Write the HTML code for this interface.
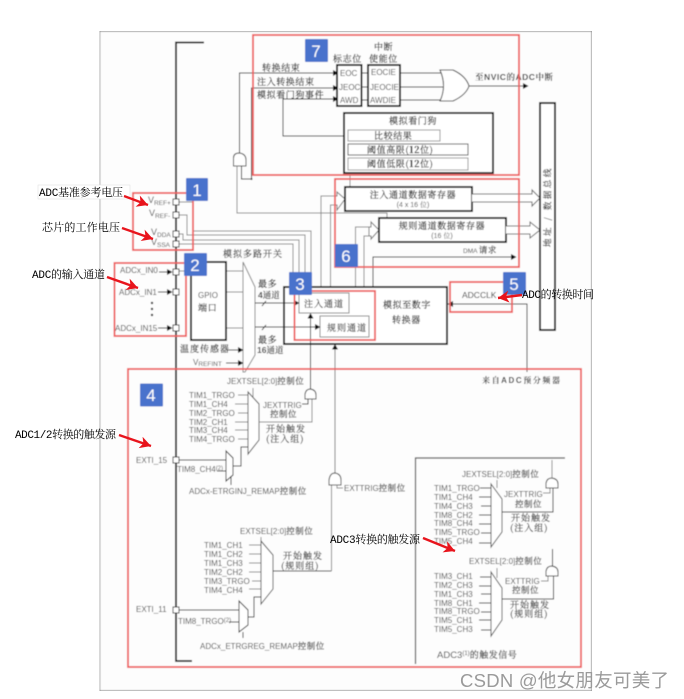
<!DOCTYPE html>
<html><head><meta charset="utf-8"><style>
html,body{margin:0;padding:0;background:#fff;width:684px;height:699px;overflow:hidden}
svg{display:block}
text{font-family:"Liberation Sans","Noto Serif CJK SC",sans-serif;font-size:8px;fill:#4a4a4a}
.c{font-family:"Noto Serif CJK SC","Liberation Sans",serif;font-size:9px;letter-spacing:1px;fill:#444;stroke:#444;stroke-width:.2}
.cd{font-family:"Noto Serif CJK SC","Liberation Sans",serif;font-size:9px;letter-spacing:.6px;fill:#333;stroke:#333;stroke-width:.2}
.s{font-family:"Noto Serif CJK SC",serif;font-size:8.5px;letter-spacing:.5px;stroke:#444;stroke-width:.2}
.a{font-family:"Liberation Mono","Noto Serif CJK SC",serif;font-size:11px;fill:#000}
.num{font-family:"Liberation Sans",sans-serif;font-size:17px;fill:#fff;text-anchor:middle}
.g{fill:none;stroke:#888;stroke-width:1}
.k{fill:none;stroke:#222;stroke-width:1}
.b{fill:#fff;stroke:#111;stroke-width:1.8}
.r{fill:none;stroke:#ee5f5f;stroke-width:1.8}
.blue{fill:#4a72cc}
.pin{fill:#fff;stroke:#333;stroke-width:1}
.gate{fill:#fff;stroke:#444;stroke-width:1}
.ra{stroke:#e8141c;stroke-width:2.4;fill:none;marker-end:url(#rh)}
</style></head><body>
<svg width="684" height="699" viewBox="0 0 684 699" xmlns="http://www.w3.org/2000/svg">
<defs>
<marker id="ar" markerWidth="6" markerHeight="6" refX="5" refY="3" orient="auto" markerUnits="userSpaceOnUse"><path d="M0,0L5.5,3L0,6Z" fill="#111"/></marker>
<marker id="rh" markerWidth="14" markerHeight="14" refX="11" refY="6" orient="auto" markerUnits="userSpaceOnUse"><path d="M0,0L11,6L0,12L3,6Z" fill="#e8141c"/></marker>
<filter id="bl" x="0" y="0" width="100%" height="100%"><feGaussianBlur stdDeviation="0.4"/></filter>
</defs>
<rect width="684" height="699" fill="#fff"/>
<g filter="url(#bl)">
<rect x="99.5" y="31" width="492.500" height="660" fill="#fdfdfd" stroke="#888" stroke-width="1.4"/>
<polyline points="204,42.500 176,42.500 176,661 192,661" fill="none" stroke="#222" stroke-width="1.800"/>

<!-- power lines -->
<polyline class="g" points="179,202 193,202 193,231 311,231 311,287"/>
<polyline class="g" points="179,215 187,215 187,235 305,235 305,287"/>
<polyline class="g" points="179,234 183,234 183,240 299,240 299,287"/>
<polyline class="g" points="179,244 293,244 293,287"/>

<!-- top section lines -->
<polyline class="k" points="239.500,153 239.500,73 338,73" marker-end="url(#ar)"/>
<polyline class="k" points="241.500,166 241.500,179 251.500,179 251.500,88 338,88" marker-end="url(#ar)"/>
<circle cx="251.500" cy="179" r="1" fill="#333"/>
<polyline class="k" points="347,136 283,136 283,99 338,99" marker-end="url(#ar)"/>
<rect x="337" y="65" width="24.500" height="41" class="b"/>
<rect x="368" y="65" width="32" height="41" class="b"/>
<path class="k" d="M361,73H368M361,87H368M361,100H368M400,73H445M400,87H448M400,100H445"/>
<path class="gate" d="M440,70H453Q466,76 469,86Q466,95 453,101H440Q447,86 440,70Z"/>
<line x1="469" y1="86" x2="528" y2="86" stroke="#222" marker-end="url(#ar)"/>
<text class="cd" x="262" y="71">转换结束</text>
<text class="cd" x="257" y="85">注入转换结束</text>
<text class="cd" x="257" y="98">模拟看门狗事件</text>
<text class="cd" x="333" y="62">标志位</text>
<text class="cd" x="374" y="50">中断</text>
<text class="cd" x="369" y="62">使能位</text>
<text x="340" y="76">EOC</text><text x="339" y="90">JEOC</text><text x="340" y="103">AWD</text>
<text x="371" y="75">EOCIE</text><text x="370" y="90">JEOCIE</text><text x="370" y="103">AWDIE</text>
<text x="475" y="80" textLength="78" style="font-weight:bold;font-size:8.500px;fill:#444">至NVIC的ADC中断</text>

<rect x="344" y="113" width="149" height="60" class="b"/>
<text class="cd" x="389" y="124">模拟看门狗</text>
<rect x="348" y="130" width="92" height="11" fill="#fff" stroke="#999"/>
<text class="cd" x="374" y="139">比较结果</text>
<rect x="348" y="144" width="120" height="11" fill="#fff" stroke="#555"/>
<text class="cd" x="367" y="153">阈值高限(<tspan style="font-weight:bold">12</tspan>位)</text>
<rect x="348" y="158" width="120" height="12" fill="#fff" stroke="#999"/>
<text class="cd" x="367" y="167">阈值低限(<tspan style="font-weight:bold">12</tspan>位)</text>

<!-- AND gate main -->
<path class="gate" d="M233.500,166V158Q233.500,153 239.500,153Q246,154 246,160V166Z"/>
<polyline class="g" points="237,166 237,213 387,213 387,218"/>
<line class="g" x1="350" y1="175" x2="350" y2="187"/>

<!-- registers -->
<polyline class="g" points="321,287 321,196 337,196"/>
<polyline class="g" points="330.500,287 330.500,205 337,205"/>
<path fill="#fff" stroke="#777" d="M337,192L345,199L337,210V205H335V196H337Z"/>
<rect x="345" y="187" width="127" height="24" class="b"/>
<text class="cd" x="413" y="198" text-anchor="middle">注入通道数据寄存器</text>
<text x="413" y="207" text-anchor="middle" style="font-size:7px">(4 x 16 位)</text>
<polyline class="g" points="355.500,315 355.500,227 371,227"/>
<polyline class="g" points="364,315 364,236 371,236"/>
<path fill="#fff" stroke="#777" d="M371,222L379,230L371,239V236H369V227H371Z"/>
<rect x="379" y="218" width="127" height="24" class="b"/>
<text class="cd" x="442" y="229" text-anchor="middle">规则通道数据寄存器</text>
<text x="442" y="238" text-anchor="middle" style="font-size:7px">(16 位)</text>
<path d="M472,194H532V190L540,198L532,206V202H472" fill="#fff" stroke="#666"/>
<path d="M506,226H530V222L540,230L530,238V234H506" fill="#fff" stroke="#666"/>
<rect x="540" y="103" width="15" height="227" class="b"/>
<text class="cd" transform="translate(550.500,247) rotate(-90)" style="font-size:8.500px;letter-spacing:2.500px">地址 / 数据总线</text>
<polyline class="k" points="373,287 373,257 516,257" marker-end="url(#ar)"/>
<text x="463" y="253" style="font-size:6.500px">DMA <tspan class="s">请求</tspan></text>

<!-- ADC -->
<rect x="284" y="287" width="163" height="57" class="b"/>
<rect x="299" y="293" width="50" height="20" fill="#fff" stroke="#888"/>
<text class="c" x="304" y="307">注入通道</text>
<rect x="320" y="316" width="49" height="21" fill="#fff" stroke="#888"/>
<text class="c" x="327" y="331">规则通道</text>
<text class="cd" x="383" y="308">模拟至数字</text>
<text class="cd" x="392" y="323">转换器</text>
<text x="462" y="298" style="font-size:8.500px;fill:#333">ADCCLK</text>
<polyline class="k" points="527,372 527,304 448,304" marker-end="url(#ar)"/>
<text x="482" y="383" textLength="78" style="font-weight:bold;font-size:8px;fill:#444">来自ADC预分频器</text>

<!-- inputs -->
<path class="g" d="M226,271H243M226,292H243M226,328H243M179,271H191" stroke="#aaa"/>
<rect x="191" y="262" width="35" height="78" class="b"/>
<text x="198" y="298">GPIO</text><text class="cd" x="198" y="311">端口</text>
<polyline points="243,262 255,287 255,355 245,372 243,372 243,262" fill="#fff" stroke="#888"/>
<text class="c" x="223" y="257">模拟多路开关</text>
<text class="cd" x="258" y="287">最多</text>
<text x="258" y="298" style="font-weight:bold;font-size:8.500px;fill:#444">4通道</text>
<text class="cd" x="258" y="343">最多</text>
<text x="257" y="353" style="font-weight:bold;font-size:8.500px;fill:#444">16通道</text>
<line x1="255" y1="303" x2="299" y2="303" stroke="#222" marker-end="url(#ar)"/>
<line x1="255" y1="327" x2="320" y2="327" stroke="#222" marker-end="url(#ar)"/>
<path class="k" d="M262,306L266,301M262,330L266,325"/>
<text class="c" x="180" y="352">温度传感器</text>
<line x1="227" y1="350" x2="243" y2="350" stroke="#222" marker-end="url(#ar)"/>
<text x="193" y="365" style="font-size:8px">V<tspan dy="1" style="font-size:6.500px">REFINT</tspan></text>
<line x1="226" y1="363" x2="243" y2="363" stroke="#222" marker-end="url(#ar)"/>

<text x="148" y="203" style="font-size:9px">V<tspan dy="2" style="font-size:6.500px">REF+</tspan></text>
<text x="149" y="216" style="font-size:9px">V<tspan dy="2" style="font-size:6.500px">REF-</tspan></text>
<text x="151" y="235" style="font-size:9px">V<tspan dy="2" style="font-size:6.500px">DDA</tspan></text>
<text x="151" y="245" style="font-size:9px">V<tspan dy="2" style="font-size:6.500px">SSA</tspan></text>
<text x="120" y="273">ADCx_IN0</text><text x="119" y="295">ADCx_IN1</text><text x="115" y="331">ADCx_IN15</text>
<g stroke="#222"><line x1="159" y1="272" x2="172" y2="272" marker-end="url(#ar)"/><line x1="158" y1="292" x2="172" y2="292" marker-end="url(#ar)"/><line x1="158" y1="328" x2="172" y2="328" marker-end="url(#ar)"/></g>
<circle cx="152" cy="303" r="1.200" fill="#333"/><circle cx="152" cy="309" r="1.200" fill="#333"/><circle cx="152" cy="315" r="1.200" fill="#333"/>
<g class="pin"><rect x="173" y="199" width="6" height="6"/><rect x="173" y="212" width="6" height="6"/><rect x="173" y="231" width="6" height="6"/><rect x="173" y="241" width="6" height="6"/><rect x="173" y="269" width="6" height="6"/><rect x="173" y="289" width="6" height="6"/><rect x="173" y="325" width="6" height="6"/></g>

<!-- to ADC up arrows -->
<line x1="310.500" y1="389" x2="310.500" y2="313.500" stroke="#222" marker-end="url(#ar)"/>
<line x1="335" y1="473" x2="335" y2="344.500" stroke="#777" marker-end="url(#ar)"/>

<!-- section 4: injected -->
<text x="227" y="384">JEXTSEL[2:0]<tspan class="s">控制位</tspan></text>
<line class="g" x1="253" y1="388" x2="253" y2="400"/>
<text x="189" y="398">TIM1_TRGO</text><text x="189" y="407">TIM1_CH4</text><text x="189" y="416">TIM2_TRGO</text><text x="189" y="425">TIM2_CH1</text><text x="189" y="433">TIM3_CH4</text><text x="189" y="442">TIM4_TRGO</text>
<path class="g" d="M238,395H248M235,404H248M238,413H248M235,422H248M235,430H248M238,439H248"/>
<polygon points="248,392 259,404 259,440 248,454" fill="#fff" stroke="#555"/>
<polyline class="g" points="259,422 312,422 312,399"/>
<polyline class="k" points="302,404 308,404 308,399"/>
<path class="gate" d="M305,399V394Q306,389 310.500,389Q316,390 316,395V399Z"/>
<text x="263" y="408">JEXTTRIG</text>
<text class="s" x="270" y="417">控制位</text>
<text class="c" x="266" y="432">开始触发</text>
<text class="c" x="266" y="442">(注入组)</text>
<text x="136" y="463">EXTI_15</text>
<rect x="173" y="457" width="6" height="6" class="pin"/>
<line class="k" x1="179" y1="460" x2="226" y2="460"/>
<text x="177" y="472">TIM8_CH4<tspan dy="-2" style="font-size:6px">(2)</tspan></text>
<line class="k" x1="217" y1="471" x2="226" y2="471"/>
<polygon points="226,451 233,458 233,475 226,481" fill="#fff" stroke="#333"/>
<polyline class="k" points="233,466 241,466 241,447 248,447"/>
<line class="k" x1="231" y1="476" x2="231" y2="485"/>
<text x="189" y="494">ADCx-ETRGINJ_REMAP<tspan class="s">控制位</tspan></text>

<!-- section 4: regular -->
<text x="240" y="534">EXTSEL[2:0]<tspan class="s">控制位</tspan></text>
<line class="g" x1="261" y1="537" x2="261" y2="541"/>
<text x="204" y="548">TIM1_CH1</text><text x="204" y="557">TIM1_CH2</text><text x="204" y="566">TIM1_CH3</text><text x="204" y="575">TIM2_CH2</text><text x="204" y="584">TIM3_TRGO</text><text x="204" y="593">TIM4_CH4</text>
<path class="g" d="M249,545H261M249,554H261M249,563H261M249,572H261M252,581H261M249,589H261"/>
<polygon points="261,541 273,555 273,589 261,604" fill="#fff" stroke="#555"/>
<polyline class="k" points="273,571 331.500,571"/>
<line class="g" x1="331.500" y1="571" x2="331.500" y2="485"/>
<text class="c" x="283" y="559">开始触发</text>
<text class="c" x="281" y="569">(规则组)</text>
<text x="136" y="612">EXTI_11</text>
<rect x="173" y="607" width="6" height="6" class="pin"/>
<line class="k" x1="179" y1="610" x2="239" y2="610"/>
<text x="178" y="624">TIM8_TRGO<tspan dy="-2" style="font-size:6px">(2)</tspan></text>
<line class="k" x1="229" y1="622" x2="239" y2="622"/>
<polygon points="239,601 248,610 248,625 239,632" fill="#fff" stroke="#333"/>
<polyline class="k" points="248,617 254,617 254,597 261,597"/>
<line class="k" x1="243" y1="632" x2="243" y2="638"/>
<text x="200" y="649">ADCx_ETRGREG_REMAP<tspan class="s">控制位</tspan></text>
<path class="gate" d="M329,485V480Q330,473 335,473Q341,474 341,480V485Z"/>
<polyline class="g" points="337,485 337,488 343,488"/>
<text x="344" y="491">EXTTRIG<tspan class="s">控制位</tspan></text>

<!-- ADC3 -->
<polyline points="415.500,664 415.500,458 565,458" fill="none" stroke="#555" stroke-width="1.200"/>
<text x="462" y="477">JEXTSEL[2:0]<tspan class="s">控制位</tspan></text>
<line class="g" x1="497" y1="480" x2="497" y2="488"/>
<text x="434" y="491">TIM1_TRGO</text><text x="434" y="500">TIM1_CH4</text><text x="434" y="509">TIM4_CH3</text><text x="434" y="518">TIM8_CH2</text><text x="434" y="526">TIM8_CH4</text><text x="434" y="535">TIM5_TRGO</text><text x="434" y="544">TIM5_CH4</text>
<path class="k" d="M480,488H491M479,497H491M481,506H491M479,515H491M479,524H491M481,533H491M479,543H491"/>
<polygon points="491,484 502,499 502,532 491,547" fill="#fff" stroke="#555"/>
<polyline class="k" points="502,512 553,512 553,488"/>
<polyline class="g" points="543,493 550,493 550,488"/>
<path class="gate" d="M546,488V483Q547,478 552,478Q558,479 558,484V488Z"/>
<line class="g" x1="552" y1="478" x2="552" y2="460"/>
<text x="504" y="497">JEXTTRIG</text><text class="s" x="515" y="507">控制位</text>
<text class="c" x="511" y="521">开始触发</text><text class="c" x="510" y="531">(注入组)</text>

<text x="469" y="564">EXTSEL[2:0]<tspan class="s">控制位</tspan></text>
<line class="g" x1="497" y1="568" x2="497" y2="578"/>
<text x="434" y="579">TIM3_CH1</text><text x="434" y="588">TIM2_CH3</text><text x="434" y="597">TIM1_CH3</text><text x="434" y="606">TIM8_CH1</text><text x="434" y="614">TIM8_TRGO</text><text x="434" y="623">TIM5_CH1</text><text x="434" y="632">TIM5_CH3</text>
<path class="k" d="M480,577H491M479,586H491M481,594H491M479,603H491M481,612H491M479,620H491M481,630H491"/>
<polygon points="491,572 502,588 502,620 491,636" fill="#fff" stroke="#555"/>
<polyline class="k" points="502,599 553.500,599 553.500,576"/>
<polyline class="g" points="541,581 548,581 548,576"/>
<path class="gate" d="M546,576V571Q547,566 552,566Q558,567 558,572V576Z"/>
<line class="k" x1="552.500" y1="566" x2="552.500" y2="549"/>
<text x="505" y="584">EXTTRIG</text><text class="s" x="512" y="593">控制位</text>
<text class="c" x="510" y="608">开始触发</text><text class="c" x="510" y="617">(规则组)</text>
<text x="437" y="658" style="font-size:9.500px;fill:#444">ADC3<tspan dy="-3" style="font-size:6px">(1)</tspan><tspan dy="3" class="s" style="fill:#444;font-size:9px">的触发信号</tspan></text>

<!-- red rects -->
<rect class="r" x="253" y="35" width="266" height="140"/>
<rect class="r" x="133" y="193" width="60" height="57"/>
<rect class="r" x="114.500" y="263" width="71.500" height="73"/>
<rect class="r" x="335" y="179" width="184" height="88"/>
<rect class="r" x="294.500" y="291" width="80.500" height="49"/>
<rect class="r" x="450" y="282" width="62" height="30"/>
<rect class="r" x="128" y="369" width="453" height="298"/>

<!-- blue squares -->
<rect class="blue" x="186" y="178" width="22" height="23" rx="1"/><text class="num" x="197" y="196">1</text>
<rect class="blue" x="184" y="253" width="23" height="23" rx="1"/><text class="num" x="195" y="271">2</text>
<rect class="blue" x="289" y="272" width="23" height="23" rx="1"/><text class="num" x="300" y="290">3</text>
<rect class="blue" x="140" y="383.500" width="23" height="23" rx="1"/><text class="num" x="151" y="401">4</text>
<rect class="blue" x="503" y="272" width="23" height="23" rx="1"/><text class="num" x="514" y="290">5</text>
<rect class="blue" x="335" y="244" width="23" height="23" rx="1"/><text class="num" x="346" y="262">6</text>
<rect class="blue" x="305" y="39" width="23" height="23" rx="1"/><text class="num" x="316" y="57">7</text>
</g>

<!-- annotations -->
<rect x="38" y="185" width="92" height="14" fill="#fff" stroke="#ddd" stroke-width=".5"/>
<text class="a" x="39" y="196" textLength="84">ADC基准参考电压</text>
<line class="ra" x1="124" y1="196" x2="148" y2="205"/>
<text class="a" x="42" y="231" textLength="78">芯片的工作电压</text>
<line class="ra" x1="122" y1="228" x2="153" y2="239"/>
<text class="a" x="32" y="278" textLength="73">ADC的输入通道</text>
<line class="ra" x1="107" y1="277" x2="138" y2="288"/>
<text class="a" x="15" y="438" textLength="101">ADC1/2转换的触发源</text>
<line class="ra" x1="119" y1="435" x2="151" y2="446"/>
<text class="a" x="330" y="543" textLength="90">ADC3转换的触发源</text>
<line class="ra" x1="423" y1="538" x2="455" y2="551"/>
<text class="a" x="522" y="298" textLength="72">ADC的转换时间</text>
<line class="ra" x1="522" y1="295" x2="498" y2="298"/>
<text x="460" y="687" style="font-family:'Liberation Sans','Noto Sans CJK SC',sans-serif;font-size:18.500px;fill:#9a9a9a" textLength="209">CSDN @他女朋友可美了</text>
</svg>
</body></html>
